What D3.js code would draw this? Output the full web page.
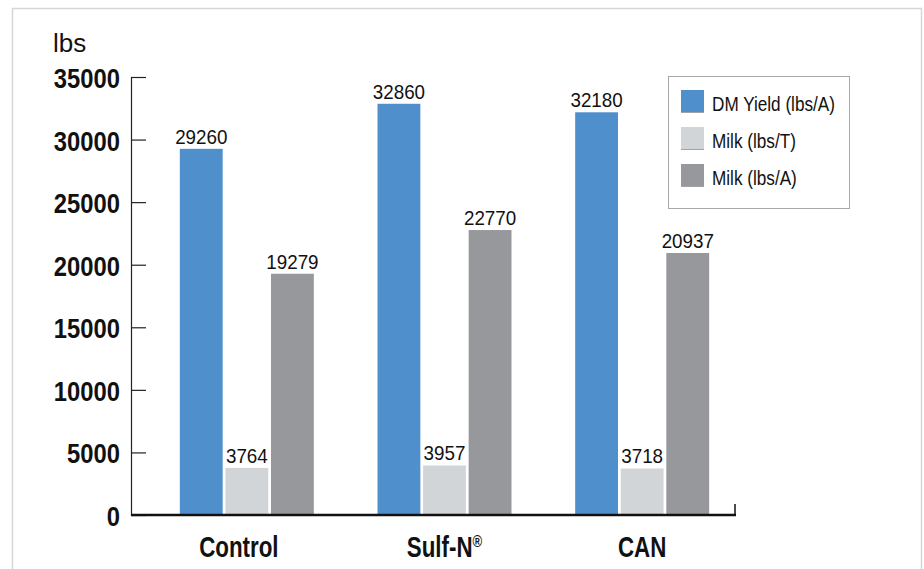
<!DOCTYPE html>
<html>
<head>
<meta charset="utf-8">
<script src="https://cdn.jsdelivr.net/npm/d3@7"></script>
<style>
  body { margin: 0; background: #fff; }
  svg text { font-family: "Liberation Sans", Arial, sans-serif; }
</style>
</head>
<body>
<svg id="chart" width="924" height="569"></svg>
<script>
const categories = ["Control", "Sulf-N®", "CAN"];
const seriesNames = ["DM Yield (lbs/A)", "Milk (lbs/T)", "Milk (lbs/A)"];
const dmYield = [29260, 32860, 32180];
const milkPerTon = [3764, 3957, 3718];
const milkPerAcre = [19279, 22770, 20937];
const yTicks = [0, 5000, 10000, 15000, 20000, 25000, 30000, 35000];
const colors = ["#4e8fcc", "#d1d5d8", "#97989c"];

const series = [dmYield, milkPerTon, milkPerAcre];

// condensed text: the narrow font is not installed, so squeeze horizontally
function squeeze(sel, x, y, sx) {
  sel.attr("x", 0).attr("y", 0)
    .attr("transform", `translate(${x},${y}) scale(${sx},1)`);
}

let svg = d3.select("#chart");

// outer frame
svg.append("rect")
  .attr("x", 12.5).attr("y", 8.5)
  .attr("width", 909).attr("height", 580)
  .attr("fill", "none")
  .attr("stroke", "#d3d7d9")
  .attr("stroke-width", 1.5);

let y = d3.scaleLinear().domain([0, 35000]).range([515, 77]);
let x = d3.scaleBand().domain(categories).range([148, 741]);
let inner = d3.scaleBand().domain(d3.range(3)).range([0, 134]).paddingInner(0.06);

// y axis
let yAxis = svg.append("g")
  .attr("transform", "translate(131,0)")
  .call(d3.axisRight(y).tickValues(yTicks).tickSize(15).tickFormat(""));
yAxis.select(".domain").attr("stroke", "#222").attr("stroke-width", 1.2);
yAxis.selectAll(".tick line").attr("stroke", "#222").attr("stroke-width", 1.2);

svg.selectAll(".ylab")
  .data(yTicks)
  .enter()
  .append("text")
  .attr("text-anchor", "end")
  .attr("font-size", 28)
  .attr("font-weight", "bold")
  .attr("fill", "#111")
  .each(function (d) { squeeze(d3.select(this), 120, y(d) + 11, 0.85); })
  .text(d => d);

svg.append("text")
  .attr("x", 53).attr("y", 52)
  .attr("font-size", 26)
  .attr("fill", "#111")
  .text("lbs");

// bars
let groups = svg.selectAll(".group")
  .data(categories)
  .enter()
  .append("g")
  .attr("transform", d => `translate(${x(d) + x.bandwidth() / 2 - 67},0)`);

groups.each(function (cat, ci) {
  let g = d3.select(this);
  series.forEach((vals, si) => {
    g.append("rect")
      .attr("x", inner(si))
      .attr("y", y(vals[ci]))
      .attr("width", inner.bandwidth())
      .attr("height", y(0) - y(vals[ci]))
      .attr("fill", colors[si]);
    g.append("text")
      .attr("text-anchor", "middle")
      .attr("font-size", 20)
      .attr("fill", "#111")
      .call(squeeze, inner(si) + inner.bandwidth() / 2, y(vals[ci]) - 5, 0.94)
      .text(vals[ci]);
  });
});

// baseline
svg.append("line")
  .attr("x1", 131).attr("x2", 736)
  .attr("y1", 515).attr("y2", 515)
  .attr("stroke", "#111").attr("stroke-width", 2.5);
svg.append("line")
  .attr("x1", 735).attr("x2", 735)
  .attr("y1", 504).attr("y2", 516)
  .attr("stroke", "#111").attr("stroke-width", 1.5);

// category labels (first one sits a bit left of its bars in the original)
svg.selectAll(".xlab")
  .data(categories)
  .enter()
  .append("text")
  .attr("text-anchor", "middle")
  .attr("font-size", 29)
  .attr("font-weight", "bold")
  .attr("fill", "#111")
  .each(function (d, i) {
    let t = d3.select(this);
    squeeze(t, x(d) + x.bandwidth() / 2 - (i == 0 ? 8 : 0), 557, 0.77);
    if (d.endsWith("®")) {
      t.append("tspan").text(d.slice(0, -1));
      t.append("tspan").attr("font-size", 17).attr("dy", -10).text("®");
    } else {
      t.text(d);
    }
  });

// legend
let legend = svg.append("g").attr("transform", "translate(668,76)");
legend.append("rect")
  .attr("x", 0.5).attr("y", 0.5)
  .attr("width", 181).attr("height", 132)
  .attr("fill", "#fff")
  .attr("stroke", "#a8a8a8");
seriesNames.forEach((name, i) => {
  legend.append("rect")
    .attr("x", 13).attr("y", 14 + i * 37)
    .attr("width", 23).attr("height", 22)
    .attr("fill", colors[i]);
  legend.append("line")
    .attr("x1", 13).attr("x2", 36)
    .attr("y1", 36.5 + i * 37).attr("y2", 36.5 + i * 37)
    .attr("stroke", "#a0a4a8").attr("stroke-width", 1);
  legend.append("text")
    .attr("font-size", 19.5)
    .attr("fill", "#111")
    .call(squeeze, 44, 35 + i * 37, 0.88)
    .text(name);
});
</script>
</body>
</html>
